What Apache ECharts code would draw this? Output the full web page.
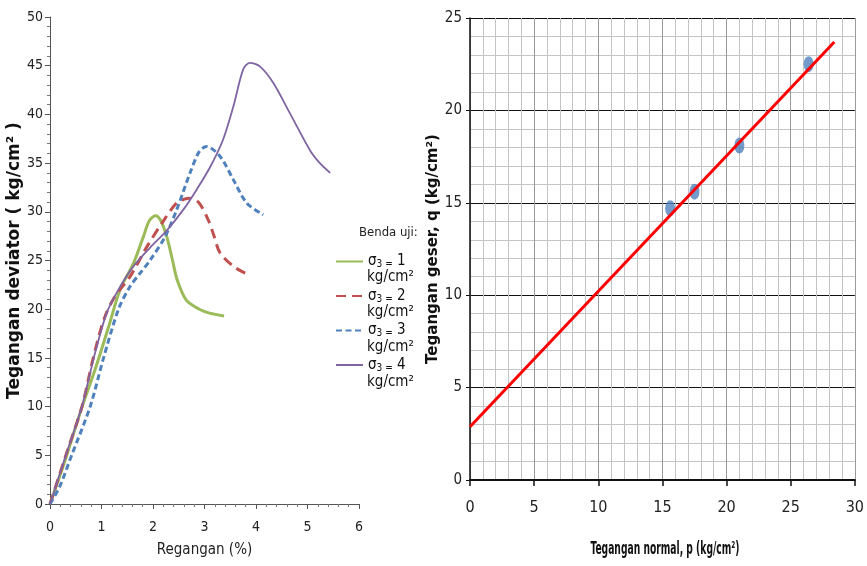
<!DOCTYPE html>
<html>
<head>
<meta charset="utf-8">
<script src="https://cdn.jsdelivr.net/npm/echarts@6/dist/echarts.min.js"></script>
<style>
  html, body { margin: 0; padding: 0; background: #fff; }
  #chart { width: 867px; height: 566px; }
</style>
</head>
<body>
<div id="chart"></div>
<script>
// kurva tegangan-regangan (kiri), regangan %, tegangan kg/cm2
var sigma1 = [[0, 0], [0.3, 4.6], [0.6, 9.6], [0.9, 14.2], [1.15, 18.4], [1.36, 22.0], [1.62, 24.7], [1.81, 27.4], [1.93, 29.1], [2.05, 29.6], [2.15, 29.1], [2.27, 27.4], [2.38, 25.0], [2.47, 23.0], [2.65, 20.9], [2.9, 20.0], [3.1, 19.6], [3.38, 19.3]];
var sigma2 = [[0, 0], [0.32, 5.2], [0.62, 10], [0.84, 15], [1.05, 19.0], [1.26, 21.3], [1.55, 23.3], [1.88, 26.4], [2.17, 28.8], [2.46, 30.9], [2.7, 31.4], [2.88, 31.0], [3.07, 29.2], [3.18, 27.6], [3.3, 25.8], [3.56, 24.4], [3.79, 23.7]];
var sigma3 = [[0, 0], [0.19, 1.8], [0.42, 5.0], [0.78, 10], [1.04, 15], [1.33, 20], [1.55, 22.3], [1.75, 23.7], [1.94, 25.0], [2.23, 27.4], [2.46, 30.2], [2.72, 34.0], [2.9, 36.2], [3.04, 36.7], [3.3, 35.7], [3.56, 33.3], [3.82, 30.9], [4.14, 29.7]];
var sigma4 = [[0, 0], [0.32, 5.2], [0.62, 10], [0.85, 15], [1.1, 19.6], [1.36, 22.3], [1.62, 24.4], [1.94, 26.3], [2.27, 28.1], [2.6, 30.3], [2.85, 32.3], [3.11, 34.6], [3.36, 37.4], [3.56, 40.8], [3.75, 44.6], [3.88, 45.3], [4.08, 44.9], [4.34, 43.2], [4.66, 40.1], [5.05, 36.3], [5.24, 35.0], [5.44, 34.0]];
var legendNames = ["σ3 = 1", "σ3 = 2", "σ3 = 3", "σ3 = 4"];

// titik uji dan garis keruntuhan (kanan)
var titikUji = [[15.6, 14.7], [17.5, 15.6], [21.0, 18.1], [26.4, 22.5]];
var garisKeruntuhan = [[0, 2.88], [28.4, 23.7]];

var narrow = "'DejaVu Sans Condensed', 'Liberation Sans Narrow', 'Liberation Sans', sans-serif";
var bold = "'DejaVu Sans', 'Liberation Sans', sans-serif";

var chart = echarts.init(document.getElementById("chart"), null, { renderer: "canvas" });

function legendLabel(name) {
    return "{v|σ}{s|3 =}{v| " + name.slice(-1) + "}";
}

// baris kedua tiap item legenda
var unitTexts = legendNames.map(function(n, i) {
    return {
        type: "text",
        left: 367,
        top: 270 + i * 35,
        style: { text: "kg/cm²", font: "15px " + narrow, fill: "#111" }
    };
});

var option = {
    animation: false,
    backgroundColor: "#fff",
    graphic: [{
        type: "text",
        left: 359,
        top: 226,
        style: { text: "Benda uji:", font: "13px " + narrow, fill: "#222" }
    }, {
        // judul sumbu x kanan, huruf dipersempit seperti aslinya
        type: "text",
        x: 665,
        y: 550,
        scaleX: 0.6,
        style: {
            text: "Tegangan normal, p (kg/cm²)",
            font: "bold 17px " + narrow,
            fill: "#111",
            align: "center",
            verticalAlign: "middle"
        }
    }].concat(unitTexts),
    legend: {
        orient: "vertical",
        left: 330,
        top: 249,
        itemWidth: 27,
        itemHeight: 14,
        itemGap: 19,
        data: legendNames,
        formatter: legendLabel,
        itemStyle: { opacity: 0 },
        textStyle: {
            rich: {
                v: { fontSize: 15, fontFamily: narrow, color: "#111", lineHeight: 16 },
                s: { fontSize: 10, fontFamily: narrow, color: "#111", lineHeight: 16, verticalAlign: "bottom", padding: [5, 0, 0, 0] }
            }
        }
    },
    grid: [
        { left: 50, top: 17, width: 309, height: 487 },
        { left: 470, top: 18, width: 390, height: 462 }
    ],
    xAxis: [{
        gridIndex: 0,
        type: "value",
        min: 0, max: 6, interval: 1,
        name: "Regangan (%)",
        nameLocation: "middle",
        nameGap: 39,
        nameTextStyle: { fontSize: 15, fontFamily: narrow, color: "#222" },
        axisLine: { lineStyle: { color: "#555" } },
        axisTick: { length: 5, lineStyle: { color: "#555" } },
        minorTick: { show: true, splitNumber: 5, length: 3, lineStyle: { color: "#777" } },
        axisLabel: { margin: 16, fontSize: 14, fontFamily: narrow, color: "#222" },
        splitLine: { show: false }
    }, {
        gridIndex: 1,
        type: "value",
        min: 0, max: 30, interval: 5,
        axisLine: { onZero: false, lineStyle: { color: "#111", width: 2 } },
        axisTick: { length: 6, lineStyle: { color: "#111", width: 1.5 } },
        axisLabel: { margin: 20, fontSize: 16, fontFamily: narrow, color: "#222" },
        splitLine: { show: true, lineStyle: { color: "#9a9a9a", width: 1 } },
        minorTick: { show: false, splitNumber: 5 },
        minorSplitLine: { show: true, lineStyle: { color: "#c4c4c4", width: 1 } }
    }],
    yAxis: [{
        gridIndex: 0,
        type: "value",
        min: 0, max: 50, interval: 5,
        name: "Tegangan deviator ( kg/cm² )",
        nameLocation: "middle",
        nameGap: 25,
        nameTextStyle: { fontSize: 17, fontWeight: "bold", fontFamily: bold, color: "#111" },
        axisLine: { show: true, lineStyle: { color: "#555" } },
        axisTick: { show: true, length: 5, lineStyle: { color: "#555" } },
        minorTick: { show: true, splitNumber: 5, length: 3, lineStyle: { color: "#777" } },
        axisLabel: { margin: 7, fontSize: 14, fontFamily: narrow, color: "#222" },
        splitLine: { show: false }
    }, {
        gridIndex: 1,
        type: "value",
        min: 0, max: 25, interval: 5,
        name: "Tegangan geser, q (kg/cm²)",
        nameLocation: "middle",
        nameGap: 19,
        nameTextStyle: { fontSize: 15, fontWeight: "bold", fontFamily: bold, color: "#111" },
        axisLine: { show: true, lineStyle: { color: "#111", width: 1.5 } },
        axisTick: { show: true, length: 4, lineStyle: { color: "#111" } },
        axisLabel: { margin: 8, fontSize: 15, fontFamily: narrow, color: "#222" },
        splitLine: { show: true, lineStyle: { color: "#111", width: 1.2 } },
        minorTick: { show: false, splitNumber: 5 },
        minorSplitLine: { show: true, lineStyle: { color: "#c4c4c4", width: 1 } }
    }],
    series: [{
        name: legendNames[0],
        type: "line",
        xAxisIndex: 0, yAxisIndex: 0,
        data: sigma1,
        smooth: 0.3,
        symbol: "none",
        color: "#9bbb59",
        lineStyle: { width: 3, color: "#9bbb59" }
    }, {
        name: legendNames[1],
        type: "line",
        xAxisIndex: 0, yAxisIndex: 0,
        data: sigma2,
        smooth: 0.3,
        symbol: "none",
        color: "#c0504d",
        lineStyle: { width: 3, color: "#c0504d", type: [10, 6] }
    }, {
        name: legendNames[2],
        type: "line",
        xAxisIndex: 0, yAxisIndex: 0,
        data: sigma3,
        smooth: 0.3,
        symbol: "none",
        color: "#4f81bd",
        lineStyle: { width: 3, color: "#4f81bd", type: [6, 3.5] }
    }, {
        name: legendNames[3],
        type: "line",
        xAxisIndex: 0, yAxisIndex: 0,
        data: sigma4,
        smooth: 0.3,
        symbol: "none",
        color: "#8064a2",
        lineStyle: { width: 1.8, color: "#8064a2" }
    }, {
        name: "garis",
        type: "line",
        xAxisIndex: 1, yAxisIndex: 1,
        data: garisKeruntuhan,
        symbol: "none",
        lineStyle: { width: 3, color: "#ff0000" },
        z: 3
    }, {
        name: "titik",
        type: "scatter",
        xAxisIndex: 1, yAxisIndex: 1,
        data: titikUji,
        symbol: "circle",
        symbolSize: [10, 16],
        itemStyle: { color: "#4f81bd" },
        z: 2
    }]
};

chart.setOption(option);
</script>
</body>
</html>
